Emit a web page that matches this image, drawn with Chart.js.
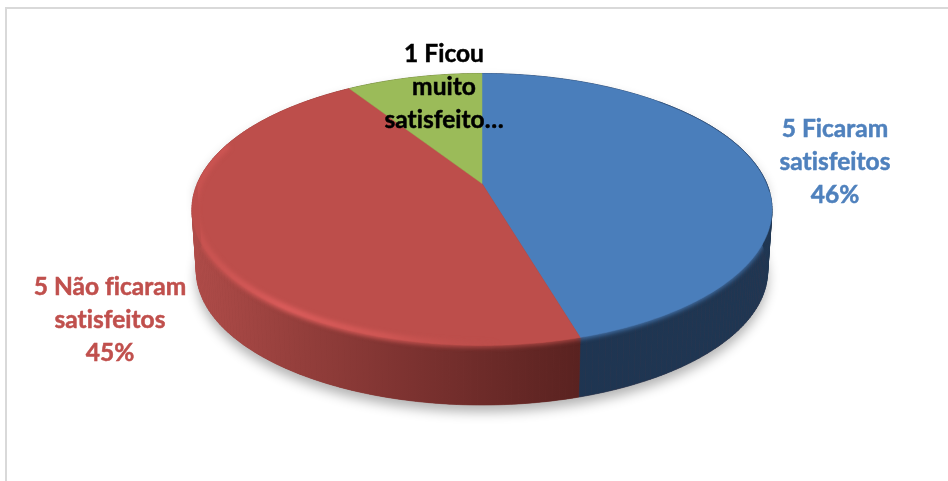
<!DOCTYPE html>
<html>
<head>
<meta charset="utf-8">
<style>
  html, body { margin: 0; padding: 0; background: #fff; overflow: hidden; }
  #moldura { position: absolute; left: 5px; top: 7px; width: 943px; height: 474px; border-left: 2px solid #d9d9d9; border-top: 2px solid #d9d9d9; }
  #grafico { position: absolute; left: 0; top: 0; }
</style>
<script src="https://cdn.jsdelivr.net/npm/chart.js@4"></script>
</head>
<body>
<div id="moldura"></div>
<canvas id="grafico" width="948" height="481"></canvas>
<script>
var categorias = ["5 Ficaram satisfeitos", "5 Não ficaram satisfeitos", "1 Ficou muito satisfeito"];
var valores = [5, 5, 1];
var linhasRotulo = [
  ["5 Ficaram", "satisfeitos", "46%"],
  ["5 Não ficaram", "satisfeitos", "45%"],
  ["1 Ficou", "muito", "satisfeito…"]
];
var coresFatia = ["#4a7ebb", "#bd4e4b", "#9bbb59"];
var coresRotulo = ["#4f81bd", "#c0504d", "#000000"];

// perspective of the tilted disc
var escalaX = 1.5515, escalaY = 0.714, fuga = 0.191;
var queda = 62, encolhe = 0.985;

function ponto(el, ang, r, base) {
  var u = Math.cos(ang) * r, v = -Math.sin(ang) * r;
  var w = 1 + fuga * v;
  var x = el.outerRadius * escalaX * u / w;
  var y = -el.outerRadius * escalaY * v / w;
  if (base) {
    x = x * encolhe;
    y = y * encolhe + queda;
  }
  return { x: el.x + x, y: el.y + y };
}

function tracaArco(ctx, el, a, b, r, base, novo) {
  var n = Math.max(2, Math.ceil(Math.abs(b - a) / 0.01));
  for (var i = 0; i <= n; i++) {
    var p = ponto(el, a + (b - a) * i / n, r, base);
    if (i == 0 && novo) ctx.moveTo(p.x, p.y);
    else ctx.lineTo(p.x, p.y);
  }
}

// outline of the whole solid: back of the top rim plus front of the bottom rim
function tracaContorno(ctx, el) {
  ctx.beginPath();
  tracaArco(ctx, el, Math.PI, Math.PI * 2, 1, false, true);
  tracaArco(ctx, el, 0, Math.PI, 1, true, false);
  ctx.closePath();
}

function gradienteParede(ctx, i) {
  var g = ctx.createLinearGradient(192, 0, 772, 0);
  if (i == 1) {
    g.addColorStop(0, "#b04c49");
    g.addColorStop(0.18, "#953f3c");
    g.addColorStop(0.38, "#7c3230");
    g.addColorStop(0.52, "#6b2a28");
    g.addColorStop(0.67, "#592220");
    g.addColorStop(1, "#592220");
  } else if (i == 0) {
    g.addColorStop(0, "#1e3350");
    g.addColorStop(1, "#1f3652");
  } else {
    g.addColorStop(0, "#5d7035");
    g.addColorStop(1, "#5d7035");
  }
  return g;
}

var pizza3d = {
  id: "pizza3d",
  beforeDatasetsDraw: function (chart) {
    var ctx = chart.ctx;
    var arcos = chart.getDatasetMeta(0).data;
    var el0 = arcos[0];
    ctx.save();

    // soft shadow under the disc
    ctx.save();
    ctx.shadowColor = "rgba(0,0,0,0.3)";
    ctx.shadowBlur = 12;
    ctx.shadowOffsetY = 7;
    ctx.fillStyle = "#7c3230";
    tracaContorno(ctx, el0);
    ctx.fill();
    ctx.restore();

    // side wall, small quads so the fold at the sides stays filled
    arcos.forEach(function (el, i) {
      var passos = Math.ceil((el.endAngle - el.startAngle) / 0.02);
      var cor = gradienteParede(ctx, i);
      ctx.fillStyle = cor;
      ctx.strokeStyle = cor;
      ctx.lineWidth = 0.6;
      for (var k = 0; k < passos; k++) {
        var a = el.startAngle + (el.endAngle - el.startAngle) * k / passos;
        var b = el.startAngle + (el.endAngle - el.startAngle) * (k + 1) / passos;
        var p1 = ponto(el, a, 1, false), p2 = ponto(el, b, 1, false);
        var p3 = ponto(el, b, 1, true), p4 = ponto(el, a, 1, true);
        ctx.beginPath();
        ctx.moveTo(p1.x, p1.y);
        ctx.lineTo(p2.x, p2.y);
        ctx.lineTo(p3.x, p3.y);
        ctx.lineTo(p4.x, p4.y);
        ctx.closePath();
        ctx.fill();
        ctx.stroke();
      }
    });

    // blurred edge of the top face over the wall, kept inside the solid
    ctx.save();
    tracaContorno(ctx, el0);
    ctx.clip();
    ctx.filter = "blur(2.5px)";
    ctx.lineWidth = 5;
    arcos.forEach(function (el, i) {
      var a = Math.max(el.startAngle, 0.25), b = Math.min(el.endAngle, Math.PI);
      if (b <= a) return;
      ctx.strokeStyle = coresFatia[i];
      ctx.beginPath();
      tracaArco(ctx, el, a, b, 0.995, false, true);
      ctx.stroke();
    });
    ctx.restore();

    // top face
    arcos.forEach(function (el, i) {
      ctx.fillStyle = coresFatia[i];
      ctx.strokeStyle = coresFatia[i];
      ctx.lineWidth = 0.5;
      ctx.beginPath();
      ctx.moveTo(el.x, el.y);
      tracaArco(ctx, el, el.startAngle, el.endAngle, 1, false, false);
      ctx.closePath();
      ctx.fill();
      ctx.stroke();
    });

    // bevel highlight on the red front edge
    ctx.save();
    tracaContorno(ctx, el0);
    ctx.clip();
    ctx.filter = "blur(2.5px)";
    var brilho = ctx.createLinearGradient(192, 0, 500, 0);
    brilho.addColorStop(0, "rgba(216,90,88,0.5)");
    brilho.addColorStop(0.3, "rgba(236,100,100,0.85)");
    brilho.addColorStop(0.62, "rgba(232,98,96,0.6)");
    brilho.addColorStop(1, "rgba(200,80,78,0)");
    ctx.strokeStyle = brilho;
    ctx.lineWidth = 5;
    ctx.beginPath();
    tracaArco(ctx, el0, Math.PI * 0.45, Math.PI * 1.1, 0.992, false, true);
    ctx.stroke();
    ctx.restore();

    // thin dark line on the blue back edge
    ctx.save();
    ctx.strokeStyle = "rgba(30,50,80,0.4)";
    ctx.lineWidth = 1;
    ctx.beginPath();
    tracaArco(ctx, el0, -Math.PI * 0.25, Math.PI * 0.02, 1, false, true);
    ctx.stroke();
    ctx.restore();

    ctx.restore();
    return false;
  },
  afterDraw: function (chart) {
    var ctx = chart.ctx;
    var ancoras = [[835, 129], [110, 287], [444, 54]];
    ctx.save();
    ctx.font = "bold 24.5px Lato";
    ctx.letterSpacing = "0.02px"; // keeps the fi and ti apart
    ctx.lineWidth = 0.5;
    ctx.textAlign = "center";
    ctx.textBaseline = "middle";
    linhasRotulo.forEach(function (linhas, i) {
      ctx.fillStyle = coresRotulo[i];
      ctx.strokeStyle = coresRotulo[i];
      linhas.forEach(function (t, k) {
        ctx.fillText(t, ancoras[i][0], ancoras[i][1] + k * 33);
        ctx.strokeText(t, ancoras[i][0], ancoras[i][1] + k * 33);
      });
    });
    ctx.restore();
  }
};

new Chart(document.getElementById("grafico"), {
  type: "pie",
  data: {
    labels: categorias,
    datasets: [{ data: valores, backgroundColor: coresFatia, borderWidth: 0 }]
  },
  options: {
    responsive: false,
    animation: false,
    layout: { padding: { left: 16, bottom: 114 } },
    plugins: { legend: { display: false }, tooltip: { enabled: false } }
  },
  plugins: [pizza3d]
});
</script>
</body>
</html>
